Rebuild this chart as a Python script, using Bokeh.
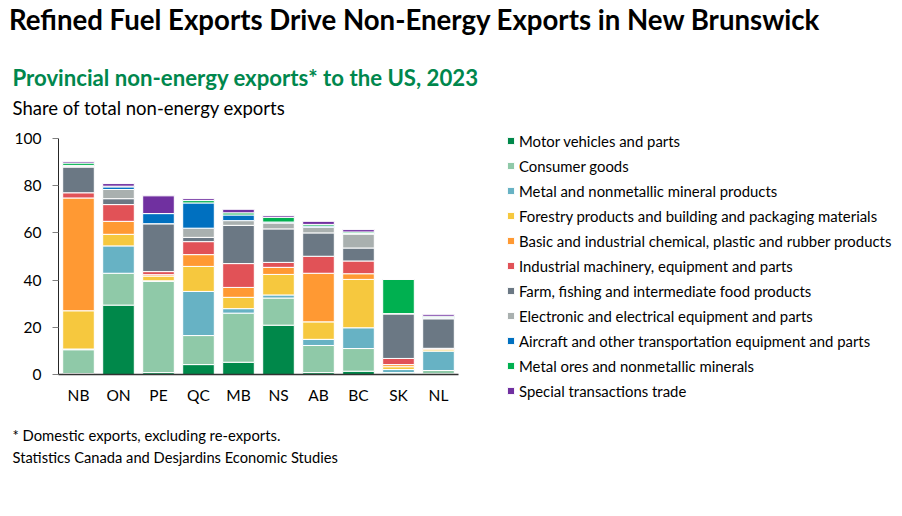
from bokeh.plotting import figure
from bokeh.layouts import column
from bokeh.models import (ColumnDataSource, Legend, LegendItem,
                          FixedTicker, Range1d, FactorRange)
from bokeh.core.properties import value
from bokeh.embed import file_html
from bokeh.resources import INLINE

provinces = ["NB", "ON", "PE", "QC", "MB", "NS", "AB", "BC", "SK", "NL"]
categories = [
    "Motor vehicles and parts",
    "Consumer goods",
    "Metal and nonmetallic mineral products",
    "Forestry products and building and packaging materials",
    "Basic and industrial chemical, plastic and rubber products",
    "Industrial machinery, equipment and parts",
    "Farm, fishing and intermediate food products",
    "Electronic and electrical equipment and parts",
    "Aircraft and other transportation equipment and parts",
    "Metal ores and nonmetallic minerals",
    "Special transactions trade",
]
motor = [0.4, 29.4, 0.8, 4.2, 5.2, 20.9, 0.8, 1.4, 0.6, 0.3]
consumer = [10.1, 13.5, 38.7, 12.3, 20.8, 11.5, 11.5, 9.6, 0.2, 1.4]
metal = [0.3, 11.6, 0.2, 18.7, 1.9, 1.3, 2.6, 8.8, 1.3, 8.2]
forestry = [16.2, 4.9, 2.0, 10.6, 4.8, 8.7, 7.4, 20.5, 1.2, 0.6]
chemical = [47.8, 5.5, 0.6, 5.0, 4.2, 3.0, 20.6, 2.4, 0.9, 0.5]
machinery = [2.2, 7.1, 1.3, 5.5, 10.1, 2.1, 7.2, 5.4, 2.6, 0.1]
farm = [10.9, 2.5, 20.3, 1.8, 16.2, 14.2, 9.9, 5.5, 18.9, 12.5]
electronic = [0.4, 3.9, 0.0, 3.9, 2.0, 2.5, 2.4, 5.9, 0.1, 0.2]
aircraft = [0.3, 1.1, 4.3, 10.7, 2.4, 0.4, 0.5, 0.3, 0.0, 0.3]
ores = [1.0, 0.3, 0.0, 1.0, 0.9, 2.0, 0.7, 0.6, 14.5, 0.6]
special = [0.7, 1.1, 7.5, 0.8, 1.5, 0.7, 1.3, 1.0, 0.1, 0.8]
y_ticks = [0, 20, 40, 60, 80, 100]

title_text = "Refined Fuel Exports Drive Non-Energy Exports in New Brunswick"
subtitle_text = "Provincial non-energy exports* to the US, 2023"
unit_text = "Share of total non-energy exports"
note_text = "* Domestic exports, excluding re-exports."
source_text = "Statistics Canada and Desjardins Economic Studies"

colors = ["#00884A", "#8FC9A8", "#67B2C4", "#F6C83E", "#FF9933", "#E15257",
          "#6B7884", "#A9B0AF", "#0070C0", "#00B050", "#7030A0"]

FONT = "Lato"
W = 886


def text_panel(height):
    f = figure(width=W, height=height, x_range=Range1d(0, W),
               y_range=Range1d(height, 0),
               min_border_left=0, min_border_right=0,
               min_border_top=0, min_border_bottom=0,
               x_axis_type=None, y_axis_type=None, frame_align=False,
               output_backend="svg", toolbar_location=None)
    f.outline_line_color = None
    f.xgrid.grid_line_color = None
    f.ygrid.grid_line_color = None
    return f


def put(f, txt, x, y, size, color="black", style="normal"):
    f.text(x=[x], y=[y], text=[txt], text_font=value(FONT),
           text_font_size=value(size), text_color=color,
           text_font_style=style, text_baseline="alphabetic", text_align="left")


# header
header = text_panel(126)
put(header, title_text, 8.5, 18.5, "27.6px", style="bold")
put(header, subtitle_text, 12, 77, "22.2px", color="#00874D", style="bold")
put(header, unit_text, 12, 107, "18.5px")

# main chart
series = [motor, consumer, metal, forestry, chemical, machinery, farm,
          electronic, aircraft, ores, special]
keys = ["s%d" % i for i in range(len(series))]
data = {"prov": provinces}
for k, s in zip(keys, series):
    data[k] = s
source = ColumnDataSource(data)

p = figure(x_range=FactorRange(*provinces), y_range=Range1d(0, 100),
           frame_width=400, frame_height=236,
           min_border_left=58, min_border_right=W - 458,
           min_border_top=12, min_border_bottom=36, frame_align=False,
           output_backend="svg", toolbar_location=None)
p.outline_line_color = None
p.xgrid.grid_line_color = None
p.ygrid.grid_line_color = None

renderers = p.vbar_stack(keys, x="prov", width=0.79, source=source,
                         color=colors, line_color="white", line_width=1)

p.yaxis.ticker = FixedTicker(ticks=y_ticks)
p.yaxis.major_tick_out = 6
p.yaxis.major_tick_in = 0
p.yaxis.minor_tick_line_color = None
p.yaxis.axis_line_color = "#262626"
p.yaxis.major_tick_line_color = "#808080"
p.yaxis.major_label_text_font = FONT
p.yaxis.major_label_text_font_size = "15.5px"
p.yaxis.major_label_text_color = "black"
p.yaxis.major_label_standoff = 11

p.xaxis.major_tick_out = 0
p.xaxis.major_tick_in = 0
p.xaxis.major_tick_line_color = None
p.xaxis.axis_line_color = "#333333"
p.xaxis.axis_line_width = 1.5
p.xaxis.major_label_text_font = FONT
p.xaxis.major_label_text_font_size = "15.5px"
p.xaxis.major_label_text_color = "black"
p.xaxis.major_label_standoff = 11

items = [LegendItem(label=c, renderers=[r]) for c, r in zip(categories, renderers)]
legend = Legend(items=items, location=(48, -27), orientation="vertical",
                glyph_width=9, glyph_height=9, label_standoff=4,
                label_text_font=FONT, label_text_font_size="14.9px",
                label_text_color="black", label_height=21, spacing=4,
                padding=0, margin=0, border_line_color=None,
                background_fill_alpha=0)
p.add_layout(legend, "right")

# footer
footer = text_panel(70)
put(footer, note_text, 12, 24, "14.8px")
put(footer, source_text, 12, 46, "14.7px")

layout = column(header, p, footer, spacing=0)
open("out.html", "w").write(file_html(layout, INLINE))
